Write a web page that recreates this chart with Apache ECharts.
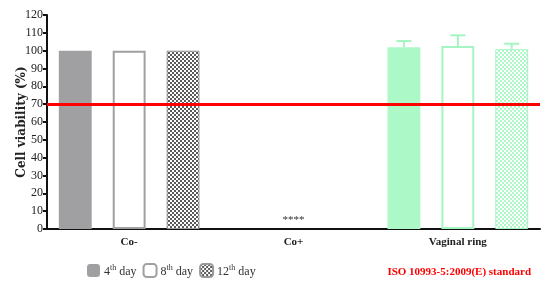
<!DOCTYPE html>
<html>
<head>
<meta charset="utf-8">
<script src="https://cdn.jsdelivr.net/npm/echarts@6.0.0/dist/echarts.min.js"></script>
<style>
  html, body { margin: 0; padding: 0; background: #fff; }
  #chart { width: 550px; height: 287px; }
</style>
</head>
<body>
<div id="chart"></div>
<script>
// categories and values
const categories = ['Co-', 'Co+', 'Vaginal ring'];
const dayNames = ['4th day', '8th day', '12th day'];
const day4 = [100, 0, 101.9];
const day8 = [100, 0, 102.6];
const day12 = [100, 0, 100.8];
const day4Err = [0, 0, 3.5];
const day8Err = [0, 0, 6.0];
const day12Err = [0, 0, 3.1];
const threshold = 70;

const serif = '"Liberation Serif", "DejaVu Serif", serif';
const greyFill = '#a0a0a3';
const greenFill = '#adf8c7';
const greenLine = '#a5f5c2';

function checker(dark, light) {
  const canvas = document.createElement('canvas');
  const ctx = canvas.getContext('2d');
  canvas.width = 4;
  canvas.height = 4;
  ctx.fillStyle = light;
  ctx.fillRect(0, 0, 4, 4);
  ctx.fillStyle = dark;
  ctx.fillRect(0, 0, 2, 2);
  ctx.fillRect(2, 2, 2, 2);
  return { image: canvas, repeat: 'repeat' };
}

const barWidthPct = 0.2;
const barGapPct = 0.64;

function styled(values, grey, green) {
  return values.map((v, i) => {
    const item = { value: v, itemStyle: i === 2 ? green : grey };
    if (v === 0) item.itemStyle = { color: 'rgba(0,0,0,0)', borderWidth: 0 };
    return item;
  });
}

const day8Data = styled(day8,
  { color: '#fff', borderColor: greyFill, borderWidth: 2 },
  { color: '#fff', borderColor: greenLine, borderWidth: 2 });
day8Data[1].label = { show: true, position: 'top', formatter: '****', fontSize: 11, color: '#333', distance: 3, fontFamily: serif };

function errorSeries(values, errs, idx, color) {
  return {
    type: 'custom',
    silent: true,
    z: 5,
    data: values.map((v, i) => [i, v, errs[i]]).filter(d => d[2] > 0),
    renderItem(params, api) {
      const band = api.size([1, 0])[0];
      const bw = band * barWidthPct;
      const off = (idx - 1) * bw * (1 + barGapPct);
      const base = api.coord([api.value(0), api.value(1)]);
      const top = api.coord([api.value(0), api.value(1) + api.value(2)]);
      const x = base[0] + off;
      const cap = bw * 0.23;
      const st = { stroke: color, lineWidth: 2 };
      return {
        type: 'group',
        children: [
          { type: 'line', shape: { x1: x, y1: base[1], x2: x, y2: top[1] }, style: st },
          { type: 'line', shape: { x1: x - cap, y1: top[1], x2: x + cap, y2: top[1] }, style: st }
        ]
      };
    }
  };
}

const supRich = {
  n: { fontSize: 12, fontFamily: serif, color: '#333', lineHeight: 14, verticalAlign: 'bottom' },
  s: { fontSize: 8, fontFamily: serif, color: '#333', lineHeight: 14, verticalAlign: 'top' }
};

const chart = echarts.init(document.getElementById('chart'));
chart.setOption({
  animation: false,
  grid: { left: 47, right: 10, top: 15, bottom: 58, containLabel: false, outerBoundsMode: 'none' },
  legend: {
    data: dayNames,
    left: 82,
    top: 258,
    itemWidth: 13,
    itemHeight: 13,
    itemGap: 6,
    formatter: name => {
      const m = name.match(/^(\d+)(th)(.*)$/);
      return '{n|' + m[1] + '}{s|' + m[2] + '}{n|' + m[3] + '}';
    },
    textStyle: { rich: supRich, padding: [0, 0, 0, -1] }
  },
  xAxis: {
    type: 'category',
    data: categories,
    axisLine: { lineStyle: { color: '#111', width: 2 } },
    axisTick: { show: false },
    axisLabel: { color: '#222', fontWeight: 'bold', fontSize: 11, fontFamily: serif, margin: 8 }
  },
  yAxis: {
    type: 'value',
    min: 0,
    max: 120,
    interval: 10,
    name: 'Cell viability (%)',
    nameLocation: 'middle',
    nameGap: 19,
    nameMoveOverlap: false,
    nameTextStyle: { fontWeight: 'bold', fontSize: 12, fontFamily: '"DejaVu Serif", serif', color: '#222' },
    axisLine: { show: true, lineStyle: { color: '#111', width: 2 } },
    axisTick: { show: true, length: 4, lineStyle: { width: 2, color: '#111' } },
    axisLabel: { color: '#222', fontSize: 12, fontFamily: serif, margin: 4 },
    splitLine: { show: false }
  },
  graphic: [{
    type: 'text',
    right: 19,
    top: 267,
    style: { text: 'ISO 10993-5:2009(E) standard', fill: '#ff0000', font: 'bold 11px ' + serif }
  }],
  series: [
    {
      name: dayNames[0],
      type: 'bar',
      barWidth: '20%',
      barGap: '64%',
      itemStyle: { color: greyFill },
      data: styled(day4, { color: greyFill }, { color: greenFill }),
      markLine: {
        silent: true,
        symbol: 'none',
        label: { show: false },
        lineStyle: { color: '#ff0000', width: 3, type: 'solid' },
        data: [{ yAxis: threshold }]
      },
      z: 3
    },
    {
      name: dayNames[1],
      type: 'bar',
      barWidth: '20%',
      barGap: '64%',
      itemStyle: { color: '#fff', borderColor: greyFill, borderWidth: 2 },
      data: day8Data,
      z: 3
    },
    {
      name: dayNames[2],
      type: 'bar',
      barWidth: '20%',
      barGap: '64%',
      itemStyle: { color: checker('#5a5a5a', '#ffffff'), borderColor: '#9a9a9a', borderWidth: 1 },
      data: styled(day12,
        { color: checker('#5a5a5a', '#ffffff'), borderColor: '#9a9a9a', borderWidth: 1 },
        { color: checker(greenFill, '#ffffff'), borderColor: greenLine, borderWidth: 1 }),
      z: 3
    },
    errorSeries(day4, day4Err, 0, greenLine),
    errorSeries(day8, day8Err, 1, greenLine),
    errorSeries(day12, day12Err, 2, greenLine)
  ]
});
</script>
</body>
</html>
